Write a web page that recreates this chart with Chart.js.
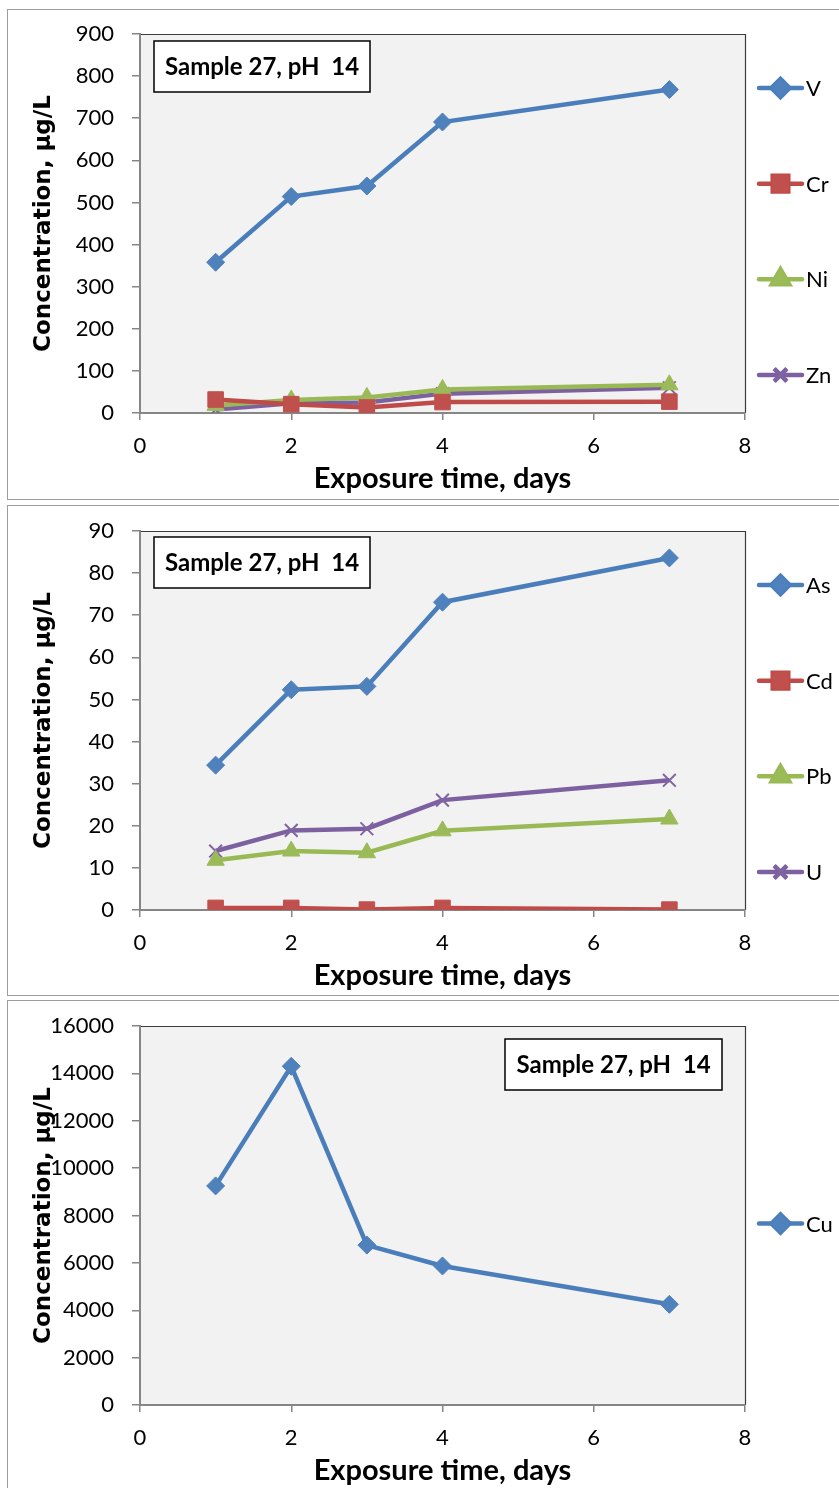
<!DOCTYPE html>
<html>
<head>
<meta charset="utf-8">
<script src="https://cdn.jsdelivr.net/npm/chart.js@4/dist/chart.umd.min.js"></script>
<style>
  html, body { margin: 0; padding: 0; background: #ffffff; }
  body { width: 839px; height: 1488px; overflow: hidden; position: relative; }
  .frame { position: absolute; left: 7px; width: 840px; border: 1px solid #9c9c9c; box-sizing: border-box; }
  canvas { position: absolute; left: 0; }
</style>
</head>
<body>
<div class="frame" style="top:9px;height:491px"></div>
<div class="frame" style="top:505px;height:491px"></div>
<div class="frame" style="top:1000px;height:500px"></div>
<canvas id="metals1" width="839" height="500" style="top:0px"></canvas>
<canvas id="metals2" width="839" height="500" style="top:497px"></canvas>
<canvas id="metals3" width="839" height="500" style="top:992px"></canvas>
<script>
// Exposure time (days) at which each leachate was sampled
const days = [1, 2, 3, 4, 7];

// Concentrations, µg/L
const vanadium = [358, 514, 539, 691, 768];
const chromium = [32, 21, 13, 26, 27];
const nickel   = [18, 31, 37, 56, 67];
const zinc     = [8, 23, 25, 46, 60];

const arsenic  = [34.4, 52.3, 53.1, 73.1, 83.6];
const cadmium  = [0.5, 0.5, 0.1, 0.5, 0.1];
const lead     = [11.8, 14.0, 13.6, 18.8, 21.6];
const uranium  = [14.0, 18.9, 19.3, 26.1, 30.8];

const copper   = [9250, 14300, 6750, 5870, 4250];

// Axis ranges and tick steps
const xRange = [0, 8, 2];
const yRange1 = [0, 900, 100];
const yRange2 = [0, 90, 10];
const yRange3 = [0, 16000, 2000];

const boxText = 'Sample 27, pH  14';
const xTitle = 'Exposure time, days';
const yTitle = 'Concentration, \u00b5g/L';

const palette = {
  blue:   { line: '#4a7ebb', fill: '#4f81bd' },
  red:    { line: '#be4b48', fill: '#c0504d' },
  green:  { line: '#98b954', fill: '#9bbb59' },
  purple: { line: '#7d60a0', fill: '#8064a2' }
};

const markers = {
  diamond:  { pointStyle: 'rectRot', radius: 9, border: 1 },
  square:   { pointStyle: 'rect', radius: 11, border: 1 },
  triangle: { pointStyle: 'triangle', radius: 10, border: 1 },
  cross:    { pointStyle: 'crossRot', radius: 9, border: 2 }
};

function series(label, values, colour, marker) {
  const c = palette[colour];
  const m = markers[marker];
  return {
    label: label,
    data: days.map((d, i) => ({ x: d, y: values[i] })),
    borderColor: c.line,
    backgroundColor: c.fill,
    borderWidth: 4.5,
    pointStyle: m.pointStyle,
    pointRadius: m.radius,
    pointHoverRadius: m.radius,
    pointBackgroundColor: c.fill,
    pointBorderColor: c.fill,
    pointBorderWidth: m.border,
    tension: 0
  };
}

const tickFont = { family: 'Lato', size: 22 };

// Plot area fill, dark top/right edges, the sample label and the side legend
const decorations = {
  id: 'decorations',
  beforeDraw(chart) {
    const a = chart.chartArea;
    const ctx = chart.ctx;
    ctx.save();
    ctx.fillStyle = '#f2f2f2';
    ctx.fillRect(a.left, a.top, a.right - a.left, a.bottom - a.top);
    ctx.strokeStyle = '#3a3a3a';
    ctx.lineWidth = 1.2;
    ctx.beginPath();
    ctx.moveTo(a.left, a.top + 0.5);
    ctx.lineTo(a.right + 0.5, a.top + 0.5);
    ctx.lineTo(a.right + 0.5, a.bottom);
    ctx.stroke();
    ctx.restore();
  },
  afterDraw(chart, args, opts) {
    const ctx = chart.ctx;
    ctx.save();
    // sample label
    const b = opts.box;
    ctx.fillStyle = '#ffffff';
    ctx.fillRect(b.x, b.y, b.w, b.h);
    ctx.strokeStyle = '#000000';
    ctx.lineWidth = 1.5;
    ctx.strokeRect(b.x, b.y, b.w, b.h);
    ctx.fillStyle = '#000000';
    ctx.font = 'bold 24px Lato';
    ctx.textAlign = 'center';
    ctx.textBaseline = 'middle';
    ctx.fillText(boxText, b.x + b.w / 2, b.y + b.h / 2 + 1);

    // legend: line segment with marker, then the label
    const sets = chart.data.datasets;
    const gap = 95.7;
    const mid = 231.5;
    sets.forEach((ds, i) => {
      const y = mid + (i - (sets.length - 1) / 2) * gap;
      ctx.strokeStyle = ds.borderColor;
      ctx.lineWidth = 4.5;
      ctx.lineCap = 'round';
      ctx.beginPath();
      ctx.moveTo(759, y);
      ctx.lineTo(802, y);
      ctx.stroke();
      ctx.lineCap = 'butt';
      Chart.helpers.drawPoint(ctx, {
        pointStyle: ds.pointStyle,
        radius: ds.pointRadius,
        rotation: 0,
        borderWidth: ds.pointBorderWidth
      }, 780.5, y);
      ctx.fillStyle = ds.pointBackgroundColor;
      ctx.strokeStyle = ds.pointBorderColor;
      ctx.lineWidth = ds.pointBorderWidth;
      ctx.fill();
      ctx.stroke();
      ctx.fillStyle = '#000000';
      ctx.font = '22px Lato';
      ctx.textAlign = 'left';
      ctx.textBaseline = 'middle';
      ctx.fillText(ds.label, 806, y + 1);
    });
    ctx.restore();
  }
};

function makeChart(id, datasets, yRange, box) {
  return new Chart(document.getElementById(id), {
    type: 'line',
    data: { datasets: datasets },
    plugins: [decorations],
    options: {
      responsive: false,
      animation: false,
      devicePixelRatio: 1,
      layout: { padding: { top: 34, right: 94, left: 0, bottom: 0 } },
      plugins: {
        legend: { display: false },
        tooltip: { enabled: false },
        decorations: { box: box }
      },
      scales: {
        x: {
          type: 'linear',
          min: xRange[0], max: xRange[1],
          afterFit(scale) { scale.height = 87; },
          border: { color: '#868686', width: 2 },
          grid: { drawOnChartArea: false, drawTicks: true, tickLength: 7, color: '#868686', lineWidth: 1.5 },
          ticks: { stepSize: xRange[2], font: tickFont, color: '#000000', padding: 13, maxRotation: 0 },
          title: {
            display: true, text: xTitle, color: '#000000',
            font: { family: 'Lato', size: 29, weight: 'bold' },
            padding: { top: 0, bottom: 4 }
          }
        },
        y: {
          type: 'linear',
          min: yRange[0], max: yRange[1],
          afterFit(scale) { scale.width = 140; },
          border: { color: '#868686', width: 2 },
          grid: { drawOnChartArea: false, drawTicks: true, tickLength: 8, color: '#868686', lineWidth: 1.5 },
          ticks: {
            stepSize: yRange[2], font: tickFont, color: '#000000', padding: 18,
            callback: (v) => String(v)
          },
          title: {
            display: true, text: yTitle, color: '#000000',
            font: { family: 'DejaVu Sans', size: 23, weight: 'bold' },
            padding: { top: 30, bottom: 0 }
          }
        }
      }
    }
  });
}

makeChart('metals1', [
  series('V', vanadium, 'blue', 'diamond'),
  series('Cr', chromium, 'red', 'square'),
  series('Ni', nickel, 'green', 'triangle'),
  series('Zn', zinc, 'purple', 'cross')
], yRange1, { x: 154, y: 41, w: 216, h: 51 });

makeChart('metals2', [
  series('As', arsenic, 'blue', 'diamond'),
  series('Cd', cadmium, 'red', 'square'),
  series('Pb', lead, 'green', 'triangle'),
  series('U', uranium, 'purple', 'cross')
], yRange2, { x: 154, y: 40, w: 216, h: 51 });

makeChart('metals3', [
  series('Cu', copper, 'blue', 'diamond')
], yRange3, { x: 505, y: 47, w: 217, h: 51 });
</script>
</body>
</html>
